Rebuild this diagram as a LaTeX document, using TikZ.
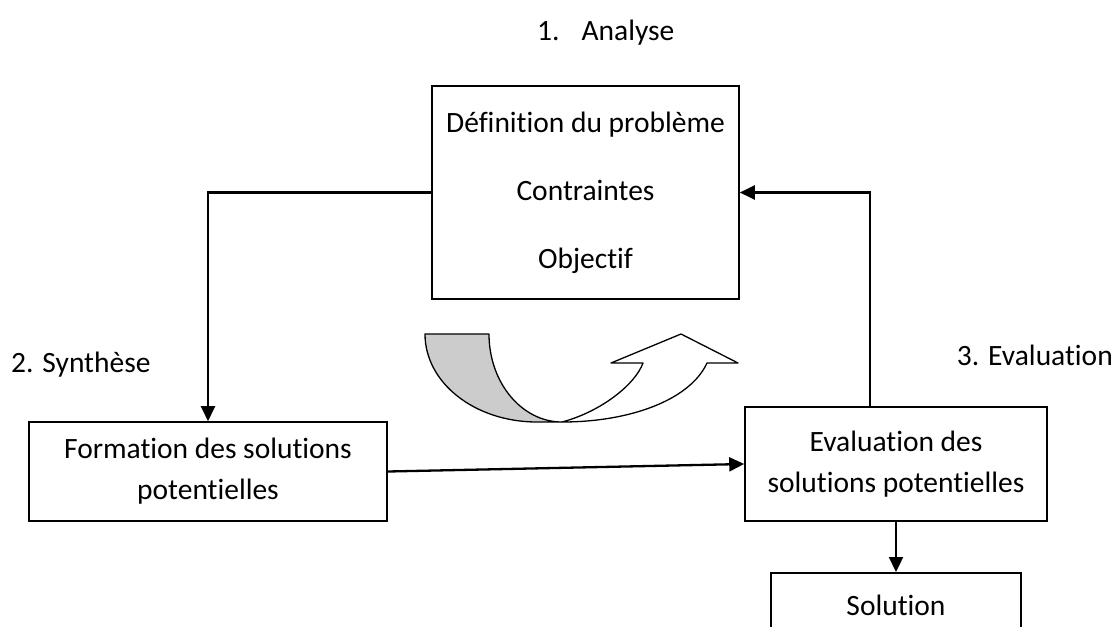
\documentclass[tikz,border=0pt]{standalone}
\usepackage{fontspec}
\setmainfont{Carlito}[Ligatures=NoCommon]
\usetikzlibrary{arrows.meta}
\begin{document}
\begin{tikzpicture}[x=1pt,y=-1pt,
  box/.style={draw, line width=1.6pt, inner sep=0pt, align=center, font=\fontsize{29.5}{41}\selectfont},
  lbl/.style={inner sep=0pt, font=\fontsize{29.5}{34}\selectfont},
  arr/.style={line width=2.3pt, -{Triangle[length=15pt,width=14pt]}},
  band/.style={draw, line width=1.3pt, line join=round}]
\useasboundingbox (0,0) rectangle (1115,626);
\clip (0,0) rectangle (1115,626);
% boxes
\node[box, minimum width=307pt, minimum height=213pt, font=\fontsize{29.5}{68}\selectfont] (def) at (585.5,192.5) {\raisebox{7pt}{\parbox{300pt}{\centering Définition du problème\\Contraintes\\Objectif}}};
\node[box, minimum width=358pt, minimum height=99pt] (form) at (208,471.5) {Formation des solutions\\potentielles};
\node[box, minimum width=302pt, minimum height=114pt] (eval) at (896,464) {\raisebox{6pt}{\parbox{296pt}{\centering Evaluation des\\solutions potentielles}}};
\node[box, minimum width=250pt, minimum height=80pt, anchor=north] (sol) at (896,572) {\raisebox{16pt}{Solution}};
% labels
\node[lbl, anchor=west] (l1) at (537,33) {1.\hspace{22pt}Analyse};
\node[lbl, anchor=west] (l2) at (11,365) {2. Synthèse};
\node[lbl, anchor=east] (l3) at (1113,355) {3. Evaluation};
% connectors
\draw[arr] (def.west) -| (form.north);
\coordinate (q) at (870,0);
\draw[arr] (eval.north -| q) |- (def.east);
\draw[arr] (form.east) -- (eval.west);
\draw[arr] (eval.south) -- (sol.north);
% curved arrow
\coordinate (A) at (425,334);
\coordinate (B) at (489,334);
\coordinate (P) at (562,422);
\filldraw[band, fill=black!20] (A) .. controls (425,383) and (475,422) .. (537,422) -- (P)
  .. controls (521.7,422) and (489,382.6) .. (B) -- cycle;
\filldraw[band, fill=white] (P) .. controls (630,422) and (690,400) .. (707,363) -- (738,363) -- (681,334) -- (611,363) -- (643,363)
  .. controls (635,385) and (600,412) .. (P) -- cycle;
\end{tikzpicture}
\end{document}
